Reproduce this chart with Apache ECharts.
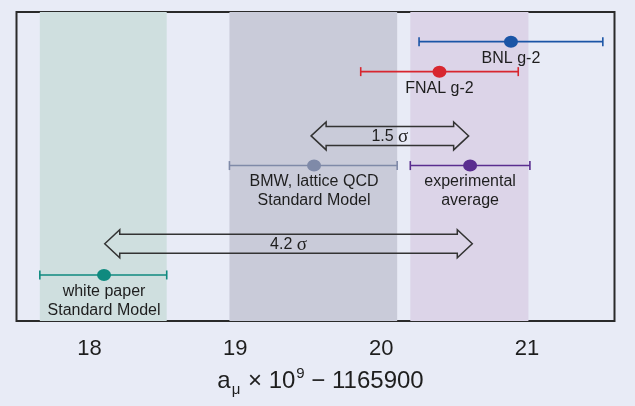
<!DOCTYPE html>
<html>
<head>
<meta charset="utf-8">
<script src="https://cdn.jsdelivr.net/npm/echarts@6/dist/echarts.min.js"></script>
<style>
html,body{margin:0;padding:0;background:#e8ebf6;}
#chart{width:635px;height:406px;}
</style>
</head>
<body>
<div id="chart"></div>
<script>
// ---- data ----
const labels = ['BNL g-2', 'FNAL g-2', 'BMW, lattice QCD\nStandard Model', 'experimental\naverage', 'white paper\nStandard Model'];
const centers = [20.89, 20.40, 19.54, 20.61, 18.10];
const lows = [20.26, 19.86, 18.96, 20.20, 17.66];
const highs = [21.52, 20.94, 20.11, 21.02, 18.53];
const rowLevel = [0.96, 1.93, 4.97, 4.97, 8.51];

const bandLow = [17.66, 18.96, 20.20];
const bandHigh = [18.53, 20.11, 21.01];

const arrowFrom = [19.52, 18.105];
const arrowTo = [20.60, 20.625];
const arrowRow = [4.01, 7.50];
const arrowSigma = ['1.5', '4.2'];

const tickValues = [18, 19, 20, 21];

// ---- styles ----
const pointColors = ['#1b55a6', '#d8262f', '#7f8aa8', '#5a2d8f', '#0f8a7f'];
const bandColors = ['#cfdfdf', '#c9cbd9', '#dcd4e8'];
const font = 'Liberation Sans, Arial, sans-serif';

const chart = echarts.init(document.getElementById('chart'), null, {renderer: 'canvas'});

const errData = centers.map((c, i) => ({
  value: [lows[i], highs[i], rowLevel[i]],
  itemStyle: {color: pointColors[i]}
}));
const ptData = centers.map((c, i) => ({
  value: [c, rowLevel[i]],
  name: labels[i],
  itemStyle: {color: pointColors[i], opacity: 1}
}));
const arrowData = arrowFrom.map((a, i) => ({value: [a, arrowTo[i], arrowRow[i]], name: arrowSigma[i]}));

const option = {
  backgroundColor: '#e8ebf6',
  animation: false,
  grid: {
    left: 16.5, right: 20.5, top: 12, bottom: 85,
    show: true, borderColor: '#2a2a2a', borderWidth: 2, backgroundColor: 'transparent',
    outerBoundsMode: 'none'
  },
  xAxis: {
    type: 'value', min: 17.5, max: 21.6,
    axisLine: {show: false},
    splitLine: {show: false},
    axisTick: {show: true, inside: false, length: 12, lineStyle: {color: '#2a2a2a', width: 1.5}, customValues: tickValues},
    axisLabel: {show: true, margin: 17, fontSize: 22, color: '#1e1e1e', fontFamily: font, customValues: tickValues},
    name: '{a|a}{sub|μ}{n| × 10}{sup|9}{n| − 1165900}',
    nameLocation: 'middle',
    nameGap: 45,
    nameTextStyle: {
      color: '#1e1e1e', fontFamily: font, fontSize: 24, padding: [0, 0, 0, 10],
      rich: {
        a: {fontSize: 24, fontFamily: font, color: '#1e1e1e', lineHeight: 30, verticalAlign: 'middle'},
        n: {fontSize: 24, fontFamily: font, color: '#1e1e1e', lineHeight: 30, verticalAlign: 'middle'},
        sub: {fontSize: 15, fontFamily: font, color: '#1e1e1e', lineHeight: 15, padding: [17, 1, 0, 1], verticalAlign: 'middle'},
        sup: {fontSize: 15, fontFamily: font, color: '#1e1e1e', lineHeight: 15, padding: [0, 0, 14, 1], verticalAlign: 'middle'}
      }
    }
  },
  yAxis: {
    type: 'value', min: 0, max: 10, inverse: true, show: false
  },
  series: [
    {
      type: 'scatter',
      data: [],
      silent: true,
      markArea: {
        silent: true,
        data: bandLow.map((b, i) => [
          {xAxis: b, itemStyle: {color: bandColors[i], opacity: 1}},
          {xAxis: bandHigh[i]}
        ])
      }
    },
    {
      type: 'custom',
      data: arrowData,
      z: 3,
      renderItem: function (params, api) {
        const l = api.coord([api.value(0), api.value(2)]);
        const r = api.coord([api.value(1), api.value(2)]);
        const y = l[1], xl = l[0], xr = r[0];
        const hl = 15, hh = 14, sh = 9.5;
        const pts = [[xl, y], [xl + hl, y - hh], [xl + hl, y - sh], [xr - hl, y - sh], [xr - hl, y - hh], [xr, y],
          [xr - hl, y + hh], [xr - hl, y + sh], [xl + hl, y + sh], [xl + hl, y + hh]];
        return {
          type: 'group',
          children: [
            {type: 'polygon', shape: {points: pts}, style: {fill: 'none', stroke: '#333333', lineWidth: 1.5}},
            {type: 'text', x: (xl + xr) / 2, y: y + 1,
              style: {text: '{n|' + arrowSigma[params.dataIndex] + ' }{s|σ}', align: 'center', verticalAlign: 'middle',
                rich: {n: {fontSize: 16, fontFamily: font, fill: '#1e1e1e'}, s: {fontSize: 19, fontFamily: 'Liberation Serif, serif', fill: '#1e1e1e'}}}}
          ]
        };
      }
    },
    {
      type: 'custom',
      data: errData,
      z: 4,
      renderItem: function (params, api) {
        const l = api.coord([api.value(0), api.value(2)]);
        const r = api.coord([api.value(1), api.value(2)]);
        const c = api.visual('color');
        const st = {stroke: c, lineWidth: 1.6};
        return {
          type: 'group',
          children: [
            {type: 'line', shape: {x1: l[0], y1: l[1], x2: r[0], y2: r[1]}, style: st},
            {type: 'line', shape: {x1: l[0], y1: l[1] - 4.5, x2: l[0], y2: l[1] + 4.5}, style: st},
            {type: 'line', shape: {x1: r[0], y1: r[1] - 4.5, x2: r[0], y2: r[1] + 4.5}, style: st}
          ]
        };
      }
    },
    {
      type: 'scatter',
      z: 5,
      symbol: 'circle',
      symbolSize: [14, 12],
      itemStyle: {opacity: 1},
      data: ptData,
      label: {
        show: true, position: 'bottom', distance: 1,
        formatter: '{b}', color: '#1e1e1e', fontSize: 16, lineHeight: 19, fontFamily: font, align: 'center'
      }
    }
  ]
};
chart.setOption(option);
</script>
</body>
</html>
